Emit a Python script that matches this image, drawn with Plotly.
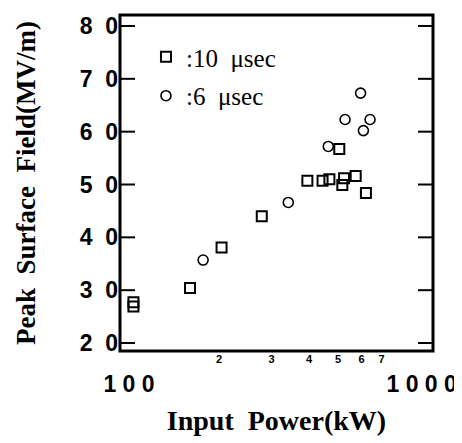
import math
import plotly.graph_objects as go

# Data
power_10us = [505, 395, 444, 468, 524, 517, 573, 620, 278, 204, 160, 103.5, 103.5]
field_10us = [56.7, 50.7, 50.7, 51.0, 51.2, 49.9, 51.6, 48.4, 44.0, 38.1, 30.4, 27.7, 26.9]

power_6us = [595, 528, 640, 608, 464, 341, 177]
field_6us = [67.3, 62.3, 62.3, 60.2, 57.2, 46.6, 35.7]

y_ticks = [20, 30, 40, 50, 60, 70, 80]
y_ticktext = ["2\u00a0\u00a00", "3\u00a0\u00a00", "4\u00a0\u00a00", "5\u00a0\u00a00",
              "6\u00a0\u00a00", "7\u00a0\u00a00", "8\u00a0\u00a00"]
x_minor_vals = [200, 300, 400, 500, 600, 700, 800, 900]
x_minor_text = ["2", "3", "4", "5", "6", "7", "", ""]
x_decades = [100, 1000]
x_decade_text = ["1\u00a00\u00a00", "1\u00a00\u00a00\u00a00\u00a0\u00a0"]

SANS = "Liberation Sans"
SERIF = "Liberation Serif"
XR = [1.970, 3.0167]
YR = [18.49, 82.08]

fig = go.Figure()
fig.add_trace(go.Scatter(
    x=power_10us, y=field_10us, mode="markers", name=":10\u00a0\u00a0\u03bcsec", legend="legend",
    marker=dict(symbol="square-open", size=10, color="black", line=dict(width=2, color="black")),
))
fig.add_trace(go.Scatter(
    x=power_6us, y=field_6us, mode="markers", name=":6\u00a0\u00a0\u03bcsec", legend="legend2",
    marker=dict(symbol="circle-open", size=10, color="black", line=dict(width=1.6, color="black")),
))
# invisible trace so the decade-label axis is drawn
fig.add_trace(go.Scatter(x=x_decades, y=[None, None], xaxis="x2", yaxis="y",
                         mode="markers", showlegend=False, hoverinfo="skip"))

legend_common = dict(xanchor="left", yanchor="middle", bgcolor="rgba(0,0,0,0)",
                     borderwidth=0, itemwidth=30, itemclick=False, itemdoubleclick=False,
                     font=dict(family=SERIF, size=25, color="black"))

fig.update_layout(
    template="none",
    width=454, height=435,
    margin=dict(l=112, r=29, t=7, b=92),
    paper_bgcolor="white", plot_bgcolor="white",
    showlegend=True,
    font=dict(family=SANS, color="black"),
    legend=dict(x=0.083, y=0.875, **legend_common),
    legend2=dict(x=0.083, y=0.759, **legend_common),
)
fig.update_xaxes(
    type="log", range=XR,
    showgrid=False, zeroline=False, showline=False, ticks="",
    tickmode="array", tickvals=x_minor_vals,
    ticktext=["<b>" + t + "</b>" if t else "" for t in x_minor_text],
    tickfont=dict(family=SANS, size=11, color="black"),
    ticklabelstandoff=0,
    title=dict(text="<b>Input\u00a0\u00a0Power(kW)</b>", standoff=46,
               font=dict(family=SERIF, size=28, color="black")),
)
fig.update_yaxes(
    range=YR,
    showgrid=False, zeroline=False, showline=False, ticks="",
    tickmode="array", tickvals=y_ticks, ticktext=["<b>" + t + "</b>" for t in y_ticktext],
    tickfont=dict(family=SANS, size=23, color="black"),
    ticklabelstandoff=1,
    title=dict(text="<b>Peak\u00a0\u00a0Surface\u00a0\u00a0Field(MV/m)</b>", standoff=36,
               font=dict(family=SERIF, size=27, color="black")),
)
fig.update_layout(xaxis2=dict(
    type="log", range=XR, overlaying="x", anchor="y", side="bottom",
    showgrid=False, zeroline=False, showline=False, ticks="",
    tickmode="array", tickvals=x_decades, ticktext=["<b>" + t + "</b>" for t in x_decade_text],
    tickfont=dict(family=SANS, size=23, color="black"),
    ticklabelstandoff=17, ticklabeloverflow="allow",
))

# Frame and inside tick marks (positions come from the tick arrays via the axes)
tick_line = dict(color="black", width=2)
shapes = [dict(type="rect", xref="paper", yref="paper", x0=0, x1=1, y0=0, y1=1,
               line=dict(color="black", width=3), fillcolor="rgba(0,0,0,0)", layer="above")]
for v in y_ticks:
    for anchor, sign in ((0, 1), (1, -1)):
        shapes.append(dict(type="line", xref="paper", yref="y", xsizemode="pixel",
                           xanchor=anchor, x0=0, x1=15 * sign, y0=v, y1=v,
                           line=tick_line, layer="above"))
for vals, length in ((x_minor_vals, 9), (x_decades, 17)):
    for v in vals:
        lv = math.log10(v)
        for anchor, sign in ((0, 1), (1, -1)):
            shapes.append(dict(type="line", xref="x", yref="paper", ysizemode="pixel",
                               yanchor=anchor, y0=0, y1=length * sign, x0=lv, x1=lv,
                               line=tick_line, layer="above"))
fig.update_layout(shapes=shapes)

fig.write_html("out.html")
